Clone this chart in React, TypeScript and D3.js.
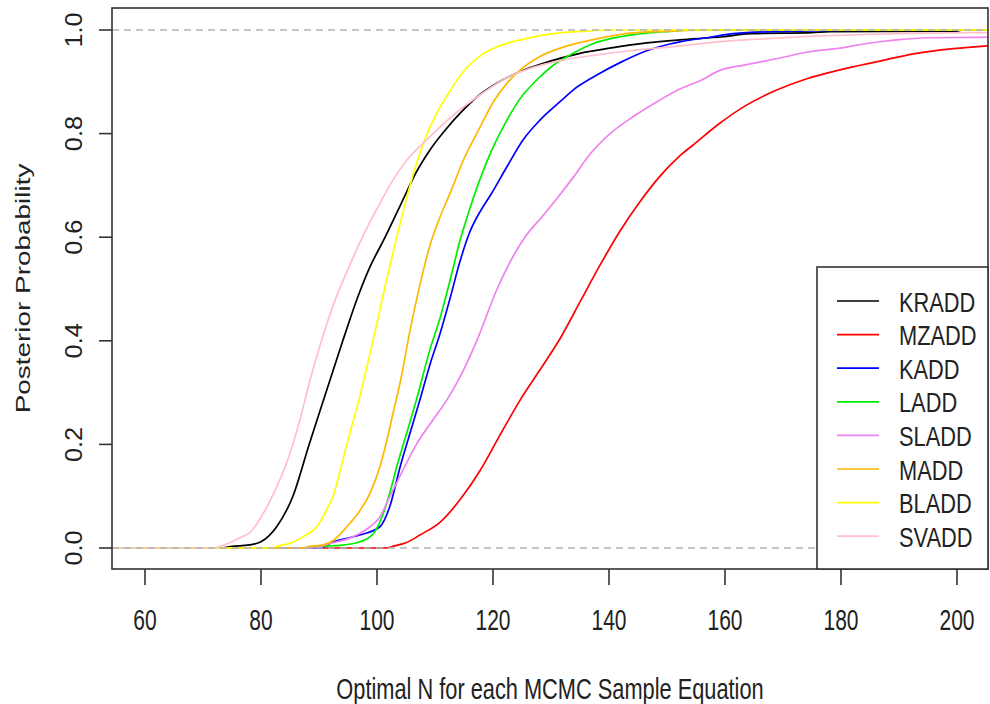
import React from "react";
import * as d3 from "d3";

// Empirical CDFs of the optimal N per MCMC sample equation: [N, cumulative probability]
const KRADD: [number, number][] = [
  [54, 0], [73, 0], [75, 0.003], [78, 0.006], [80, 0.012], [82.7, 0.041], [85.5, 0.1],
  [88.3, 0.2], [91.2, 0.3], [94.1, 0.4], [96.8, 0.488], [98.6, 0.538], [101.4, 0.6],
  [104.8, 0.68], [106.6, 0.722], [109.1, 0.768], [112, 0.81],
  [114.3, 0.839], [117.8, 0.876], [120.6, 0.897], [124.7, 0.92], [129.3, 0.938],
  [135, 0.955], [140.7, 0.966], [146.5, 0.975], [152.2, 0.981],
  [159.7, 0.987], [164.3, 0.993], [175, 0.995], [178, 0.997], [200, 0.998], [201, 1], [206, 1],
];
const MZADD: [number, number][] = [
  [54, 0], [101.5, 0], [103, 0.004], [105, 0.01], [107.4, 0.025], [110.9, 0.05],
  [114.3, 0.093], [117.8, 0.15], [121.2, 0.218], [124.7, 0.286], [128.1, 0.344],
  [131.6, 0.405], [135, 0.475], [138.4, 0.545], [141.9, 0.612], [145.3, 0.668],
  [148.8, 0.718], [152.2, 0.757], [154.5, 0.778], [159.1, 0.82],
  [163.7, 0.855], [168.9, 0.884], [174.1, 0.906], [179.8, 0.923], [186.7, 0.94],
  [192.5, 0.954], [199.4, 0.964], [206, 0.97],
];
const KADD: [number, number][] = [
  [54, 0], [90, 0], [92.5, 0.012], [97, 0.025], [100.5, 0.041], [102.2, 0.08], [104, 0.157],
  [105.7, 0.222], [107.4, 0.286], [109.1, 0.353], [110.9, 0.415], [112.6, 0.482],
  [114.3, 0.553], [116, 0.61], [117.8, 0.65], [119.5, 0.68], [122.4, 0.736],
  [125.2, 0.788], [128.1, 0.826], [131.6, 0.862], [133.8, 0.884], [137.9, 0.913],
  [141.9, 0.937], [146.5, 0.96], [150.5, 0.973], [152.2, 0.977], [157.9, 0.987],
  [161.4, 0.993], [168.9, 0.997], [189, 1], [206, 1],
];
const LADD: [number, number][] = [
  [54, 0], [88, 0], [90.2, 0.003], [93.6, 0.005], [97.1, 0.012], [99.4, 0.028],
  [101.1, 0.067], [102.2, 0.106], [103.4, 0.157], [105.1, 0.221], [106.8, 0.286],
  [109.1, 0.382], [110.9, 0.445], [112.6, 0.517], [114.3, 0.593], [116, 0.655],
  [118.9, 0.745], [122.4, 0.826], [124.7, 0.868], [127.5, 0.903],
  [130.4, 0.932], [133.8, 0.955], [137.3, 0.974], [141.9, 0.987], [146.5, 0.994],
  [150, 0.997], [155, 1], [206, 1],
];
const SLADD: [number, number][] = [
  [54, 0], [89, 0], [91.9, 0.009], [95.3, 0.019], [98.8, 0.041], [100.5, 0.06],
  [102.2, 0.099], [104.5, 0.151], [106.8, 0.2], [109.7, 0.248], [112, 0.285],
  [114.3, 0.33], [117.2, 0.4], [120.7, 0.5], [125.5, 0.6], [128.5, 0.64], [131.6, 0.683],
  [133.8, 0.715], [136.7, 0.76], [140.2, 0.8], [144.2, 0.833], [148.8, 0.865],
  [152.2, 0.886], [155.7, 0.902], [159.1, 0.922], [163.7, 0.933], [169.5, 0.946],
  [174.1, 0.957], [179.8, 0.965], [184.4, 0.974], [189.6, 0.981], [195.3, 0.985], [206, 0.986],
];
const MADD: [number, number][] = [
  [54, 0], [87, 0], [88.4, 0.003], [90.7, 0.006], [92.5, 0.015], [94.8, 0.041],
  [97.1, 0.073], [98.8, 0.106], [100.5, 0.157], [101.7, 0.208], [102.8, 0.262],
  [104, 0.32], [105.7, 0.42], [107.4, 0.508], [109.1, 0.583], [110.9, 0.64],
  [112.6, 0.685], [114.9, 0.749], [117.8, 0.813], [120.1, 0.862], [122.4, 0.897],
  [124.7, 0.923], [128.1, 0.949], [132.1, 0.967], [137.9, 0.983], [143.6, 0.994],
  [151, 0.998], [158, 1], [206, 1],
];
const BLADD: [number, number][] = [
  [54, 0], [82, 0], [82.7, 0.003], [85, 0.009], [87.3, 0.022], [89.6, 0.041], [91, 0.067],
  [92.4, 0.1], [94.8, 0.2], [97.2, 0.3], [99.3, 0.4], [101.3, 0.5], [103.4, 0.6],
  [105.7, 0.7], [108.3, 0.79], [109.7, 0.826], [112, 0.872], [114.9, 0.92], [117.8, 0.95],
  [120.6, 0.967], [124.7, 0.981], [130.4, 0.993], [136.2, 0.998], [140, 1], [206, 1],
];
const SVADD: [number, number][] = [
  [54, 0], [72, 0], [72.9, 0.003], [76.4, 0.02], [78.1, 0.03], [80.4, 0.067],
  [82.7, 0.118], [85, 0.183], [86.7, 0.247], [88.4, 0.322], [90.2, 0.392], [92.8, 0.479],
  [95.3, 0.546], [97.9, 0.61], [100.5, 0.665], [102.2, 0.7], [105.1, 0.748],
  [108, 0.782], [110.9, 0.813], [114.3, 0.846], [117.8, 0.875], [122.4, 0.908],
  [126.4, 0.926], [132.1, 0.942], [137.9, 0.952], [143.6, 0.96], [151.1, 0.968],
  [160.9, 0.979], [166.6, 0.983], [175.2, 0.988], [195.3, 0.994], [206, 0.995],
];

const SERIES_NAMES = ["KRADD", "MZADD", "KADD", "LADD", "SLADD", "MADD", "BLADD", "SVADD"];
const SERIES_DATA = [KRADD, MZADD, KADD, LADD, SLADD, MADD, BLADD, SVADD];
const SERIES_COLORS = ["#000000", "#FF0000", "#0000FF", "#00EE00", "#EE82EE", "#FFB800", "#FFFF00", "#FFC0CB"];

const X_TICKS = [60, 80, 100, 120, 140, 160, 180, 200];
const Y_TICKS = [0, 0.2, 0.4, 0.6, 0.8, 1.0];
const REF_LINES = [0, 1];

const X_TITLE = "Optimal N for each MCMC Sample Equation";
const Y_TITLE = "Posterior Probability";

const W = 990;
const H = 704;
const box = { left: 112, right: 988, top: 8, bottom: 569 };

export default function App() {
  const x = d3.scaleLinear().domain([60, 200]).range([145, 957]);
  const y = d3.scaleLinear().domain([0, 1]).range([548, 30]);
  const line = d3
    .line<[number, number]>()
    .x((d) => x(d[0]))
    .y((d) => y(d[1]))
    .curve(d3.curveMonotoneX);

  const ink = "#222";
  const font = "'Liberation Sans', Arial, sans-serif";

  const legend = { left: 817, top: 267, lineX1: 837, lineX2: 879, textX: 899, row0: 301, rowStep: 33.6 };

  return (
    <svg
      width={W}
      height={H}
      viewBox={`0 0 ${W} ${H}`}
      style={{ position: "absolute", left: 0, top: 0, display: "block", background: "#fff" }}
      fontFamily={font}
    >
      <defs>
        <clipPath id="plot-clip">
          <rect x={box.left} y={box.top} width={box.right - box.left} height={box.bottom - box.top} />
        </clipPath>
      </defs>
      <rect x={0} y={0} width={W} height={H} fill="#fff" />

      {/* ECDF curves, drawn in legend order */}
      <g clipPath="url(#plot-clip)">
        {SERIES_DATA.map((pts, i) => (
          <path
            key={SERIES_NAMES[i]}
            d={line(pts) || ""}
            fill="none"
            stroke={SERIES_COLORS[i]}
            strokeWidth={1.7}
          />
        ))}
        {REF_LINES.map((v) => (
          <line
            key={v}
            x1={box.left}
            x2={box.right}
            y1={y(v)}
            y2={y(v)}
            stroke="#B3B3B3"
            strokeWidth={1.5}
            strokeDasharray="7 5"
          />
        ))}
      </g>

      {/* plot frame */}
      <rect
        x={box.left}
        y={box.top}
        width={box.right - box.left}
        height={box.bottom - box.top}
        fill="none"
        stroke="#333"
        strokeWidth={1.6}
      />

      {/* y axis */}
      {Y_TICKS.map((t) => (
        <g key={t}>
          <line x1={box.left} x2={box.left - 13} y1={y(t)} y2={y(t)} stroke="#333" strokeWidth={1.6} />
          <text
            transform={`translate(81.5, ${y(t)}) rotate(-90) scale(1.1, 1)`}
            textAnchor="middle"
            fontSize={23}
            fill={ink}
          >
            {t.toFixed(1)}
          </text>
        </g>
      ))}

      {/* x axis */}
      {X_TICKS.map((t) => (
        <g key={t}>
          <line x1={x(t)} x2={x(t)} y1={box.bottom} y2={box.bottom + 16} stroke="#333" strokeWidth={1.6} />
          <text
            transform={`translate(${x(t)}, 630) scale(1, 1.38)`}
            textAnchor="middle"
            fontSize={21}
            fill={ink}
          >
            {t}
          </text>
        </g>
      ))}

      {/* axis titles */}
      <text
        transform={`translate(${(box.left + box.right) / 2}, 699) scale(1, 1.35)`}
        textAnchor="middle"
        fontSize={21.8}
        fill={ink}
      >
        {X_TITLE}
      </text>
      <text
        transform={`translate(30, ${(box.top + box.bottom) / 2}) rotate(-90) scale(1.33, 1)`}
        textAnchor="middle"
        fontSize={21}
        fill={ink}
      >
        {Y_TITLE}
      </text>

      {/* legend */}
      <rect
        x={legend.left}
        y={legend.top}
        width={box.right - legend.left}
        height={box.bottom - legend.top}
        fill="#fff"
        stroke="#333"
        strokeWidth={1.6}
      />
      {SERIES_NAMES.map((name, i) => {
        const ry = legend.row0 + i * legend.rowStep;
        return (
          <g key={name}>
            <line x1={legend.lineX1} x2={legend.lineX2} y1={ry} y2={ry} stroke={SERIES_COLORS[i]} strokeWidth={1.7} />
            <text
              transform={`translate(${legend.textX}, ${ry + 10.5}) scale(1, 1.3)`}
              fontSize={21.8}
              fill={ink}
            >
              {name}
            </text>
          </g>
        );
      })}
    </svg>
  );
}
